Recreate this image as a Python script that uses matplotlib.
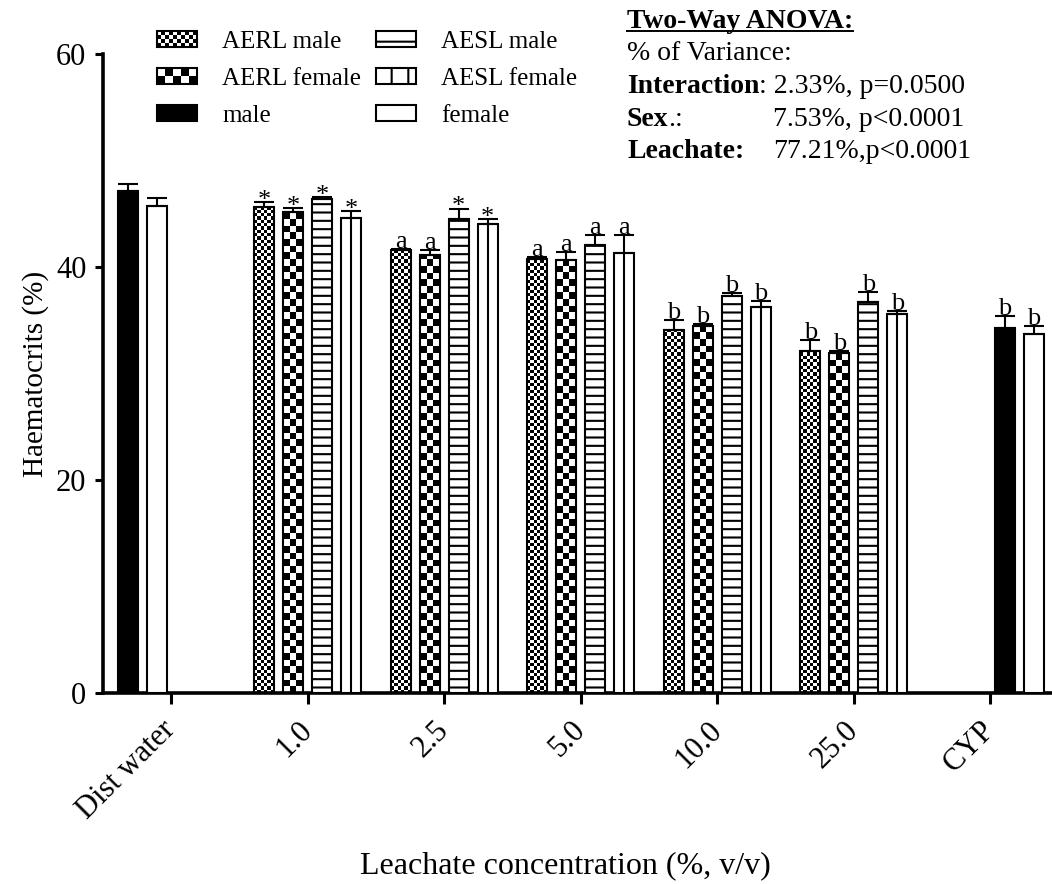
import numpy as np
import matplotlib
matplotlib.use('Agg')
import matplotlib.pyplot as plt
from matplotlib.patches import Rectangle
from matplotlib.lines import Line2D
from matplotlib.legend_handler import HandlerBase

plt.rcParams['font.family'] = ['Liberation Serif', 'DejaVu Serif']
plt.rcParams['hatch.linewidth'] = 1.5

# ---------------- data ----------------
groups = ['Dist water', '1.0', '2.5', '5.0', '10.0', '25.0', 'CYP']
nan = np.nan
aerl_male = [nan, 45.63, 41.57, 40.75, 34.11, 32.14, nan]
aerl_male_err = [nan, 0.45, 0.15, 0.16, 0.88, 0.98, nan]
aerl_female = [nan, 45.19, 41.10, 40.69, 34.49, 31.92, nan]
aerl_female_err = [nan, 0.35, 0.47, 0.75, 0.13, 0.19, nan]
aesl_male = [nan, 46.38, 44.54, 42.10, 37.31, 36.69, nan]
aesl_male_err = [nan, 0.15, 0.94, 0.88, 0.28, 0.97, nan]
aesl_female = [nan, 44.63, 44.04, 41.29, 36.27, 35.62, nan]
aesl_female_err = [nan, 0.63, 0.44, 1.74, 0.54, 0.25, nan]
ctrl_male = [47.17, nan, nan, nan, nan, nan, 34.27]
ctrl_male_err = [0.60, nan, nan, nan, nan, nan, 1.16]
ctrl_female = [45.73, nan, nan, nan, nan, nan, 33.71]
ctrl_female_err = [0.75, nan, nan, nan, nan, nan, 0.72]

aerl_male_sig = ['', '*', 'a', 'a', 'b', 'b', '']
aerl_female_sig = ['', '*', 'a', 'a', 'b', 'b', '']
aesl_male_sig = ['', '*', '*', 'a', 'b', 'b', '']
aesl_female_sig = ['', '*', '*', 'a', 'b', 'b', '']
ctrl_male_sig = ['', '', '', '', '', '', 'b']
ctrl_female_sig = ['', '', '', '', '', '', 'b']

legend_labels = ['AERL male', 'AERL female', 'male', 'AESL male', 'AESL female', 'female']
anova_title = 'Two-Way ANOVA:'
anova_sub = '% of Variance:'
anova_rows = [('Interaction', ': 2.33%, p=0.0500', ''),
              ('Sex', '.:', '7.53%, p<0.0001'),
              ('Leachate:', '', '77.21%,p<0.0001')]

# ---------------- layout ----------------
W, H = 1052, 884
fig = plt.figure(figsize=(W / 100, H / 100), dpi=100)
ax = fig.add_axes([103 / W, 1 - 693 / H, (W - 103) / W, (693 - 54) / H])
ax.set_xlim(-0.5, -0.5 + 949 / 136.5)
ax.set_ylim(0, 60)

slot = 0.2125
bw = 0.1465
xg = np.arange(len(groups))

def col(v):
    return np.array(v, dtype=float)

series = [
    ('aerl_m', col(aerl_male), col(aerl_male_err), aerl_male_sig, np.full(len(groups), -1.5)),
    ('aerl_f', col(aerl_female), col(aerl_female_err), aerl_female_sig, np.full(len(groups), -0.5)),
    ('aesl_m', col(aesl_male), col(aesl_male_err), aesl_male_sig, np.full(len(groups), 0.5)),
    ('aesl_f', col(aesl_female), col(aesl_female_err), aesl_female_sig, np.full(len(groups), 1.5)),
    ('ctrl_m', col(ctrl_male), col(ctrl_male_err), ctrl_male_sig,
     np.array([-1.5, 0, 0, 0, 0, 0, 0.5])),
    ('ctrl_f', col(ctrl_female), col(ctrl_female_err), ctrl_female_sig,
     np.array([-0.5, 0, 0, 0, 0, 0, 1.5])),
]

LW = 1.5

def checker_fill(bar, cell_px, z=2):
    x0 = bar.get_x(); w = bar.get_width(); h = bar.get_height()
    p0 = ax.transData.transform((x0, 0))
    p1 = ax.transData.transform((x0 + w, h))
    wpx = p1[0] - p0[0]; hpx = p1[1] - p0[1]
    nx = max(1, int(round(wpx / cell_px)))
    c = wpx / nx
    ny = int(np.ceil(hpx / c)) + 1
    arr = np.add.outer(np.arange(ny), np.arange(nx)) % 2
    top = ny * c * h / hpx
    im = ax.imshow(arr, extent=(x0, x0 + w, 0, top), origin='lower', cmap='gray_r',
                   vmin=0, vmax=1, interpolation='nearest', aspect='auto', zorder=z)
    im.set_clip_path(bar)

for name, vals, errs, sigs, offs in series:
    m = ~np.isnan(vals)
    x = xg[m] + offs[m] * slot
    v = vals[m]; e = errs[m]
    if name == 'aesl_m':
        bars = ax.bar(x, v, width=bw, facecolor='white', edgecolor='k', lw=LW, hatch='--', zorder=3)
    elif name == 'ctrl_m':
        bars = ax.bar(x, v, width=bw, facecolor='k', edgecolor='k', lw=LW, zorder=3)
    elif name in ('ctrl_f', 'aesl_f'):
        bars = ax.bar(x, v, width=bw, facecolor='white', edgecolor='k', lw=LW, zorder=3)
        if name == 'aesl_f':
            ax.vlines(x, 0, v, colors='k', lw=LW, zorder=3.5)
    else:
        ax.bar(x, v, width=bw, facecolor='white', edgecolor='none', zorder=1)
        bars = ax.bar(x, v, width=bw, facecolor='none', edgecolor='k', lw=LW, zorder=3)
        cell = 3.3 if name == 'aerl_m' else 6.7
        for b in bars:
            checker_fill(b, cell)
    ax.errorbar(x, v, yerr=[np.zeros_like(e), e], fmt='none', ecolor='k',
                elinewidth=LW, capsize=7, capthick=LW, zorder=4)
    for xi, vi, ei, s in zip(x, v, e, np.array(sigs, dtype=object)[m]):
        if not s:
            continue
        dy = -3.5 if s == '*' else 0.8
        ax.annotate(s, (xi, vi + ei), xytext=(0, dy), textcoords='offset points',
                    ha='center', va='baseline', fontsize=19, zorder=5)

ax.set_xlim(-0.5, -0.5 + 949 / 136.5)
ax.set_ylim(0, 60)

# axes styling
for s in ['top', 'right']:
    ax.spines[s].set_visible(False)
for s in ['left', 'bottom']:
    ax.spines[s].set_linewidth(2.6)
ax.set_yticks([0, 20, 40, 60])
ax.tick_params(axis='y', direction='out', length=6, width=2.2, labelsize=22, pad=6)
ax.tick_params(axis='x', direction='out', length=8, width=2.2, labelsize=22, pad=4)
ax.set_xticks(xg)
ax.set_xticklabels(groups, rotation=45, ha='right', va='center', rotation_mode='anchor')
for t in ax.get_xticklabels():
    t.set_y(-0.025)
ax.set_ylabel('Haematocrits (%)', fontsize=21, labelpad=5)
ax.set_xlabel('Leachate concentration (%, v/v)', fontsize=23)
ax.xaxis.set_label_coords((565 - 103) / 949, -(866 - 693) / 639)
ax.xaxis.label.set_va('center')

# ---------------- legend ----------------
class HandlerChecker(HandlerBase):
    def __init__(self, nx, ny):
        super().__init__()
        self.nx = nx; self.ny = ny

    def create_artists(self, legend, orig_handle, xdescent, ydescent, width, height, fontsize, trans):
        arts = [Rectangle((-xdescent, -ydescent), width, height, facecolor='white',
                          edgecolor='none', transform=trans)]
        cw = width / self.nx; ch = height / self.ny
        for i in range(self.nx):
            for j in range(self.ny):
                if (i + j) % 2 == 0:
                    arts.append(Rectangle((-xdescent + i * cw, -ydescent + j * ch), cw, ch,
                                          facecolor='k', edgecolor='none', transform=trans))
        arts.append(Rectangle((-xdescent, -ydescent), width, height, facecolor='none',
                              edgecolor='k', lw=LW, transform=trans))
        return arts

h_aerl_m = Rectangle((0, 0), 1, 1)
h_aerl_f = Rectangle((0, 0), 1, 1)
h_male = Rectangle((0, 0), 1, 1, facecolor='k', edgecolor='k', lw=LW)
h_aesl_m = Rectangle((0, 0), 1, 1, facecolor='white', edgecolor='k', lw=LW, hatch='-')
h_aesl_f = Rectangle((0, 0), 1, 1, facecolor='white', edgecolor='k', lw=LW, hatch='|')
h_female = Rectangle((0, 0), 1, 1, facecolor='white', edgecolor='k', lw=LW)
handles = [h_aerl_m, h_aerl_f, h_male, h_aesl_m, h_aesl_f, h_female]
leg = fig.legend(handles, legend_labels, ncol=2, loc='upper left',
                 bbox_to_anchor=(157 / W, 1 - 31 / H), frameon=False, fontsize=18,
                 borderpad=0, borderaxespad=0, handlelength=1.6, handleheight=0.6,
                 handletextpad=1.0, columnspacing=0.6, labelspacing=0.6,
                 handler_map={h_aerl_m: HandlerChecker(10, 4), h_aerl_f: HandlerChecker(5, 2)})

# ---------------- ANOVA text ----------------
FS = 20
renderer = fig.canvas.get_renderer()
t0 = fig.text(627 / W, 1 - 28 / H, anova_title, fontsize=FS, fontweight='bold', va='baseline')
bb = t0.get_window_extent(renderer)
fig.add_artist(Line2D([bb.x0 / W, bb.x1 / W], [1 - 31 / H, 1 - 31 / H], color='k', lw=1.4,
                      transform=fig.transFigure))
fig.text(627 / W, 1 - 60 / H, anova_sub, fontsize=FS, va='baseline')
ys = [93, 126, 158]
for (bold, rest, val), y in zip(anova_rows, ys):
    tb = fig.text(627 / W, 1 - y / H, bold, fontsize=FS, fontweight='bold', va='baseline')
    if rest:
        bbx = tb.get_window_extent(renderer)
        fig.text(bbx.x1 / W, 1 - y / H, rest, fontsize=FS, va='baseline')
    if val:
        fig.text(773 / W, 1 - y / H, val, fontsize=FS, va='baseline')

fig.savefig('out.png', dpi=100)
